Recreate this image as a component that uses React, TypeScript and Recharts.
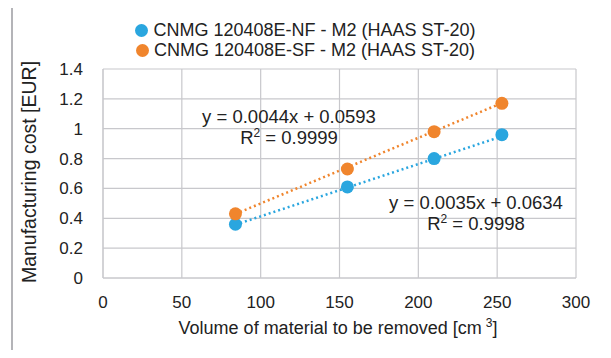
import React from "react"
import { ScatterChart, Scatter, XAxis, YAxis, CartesianGrid } from "recharts"

const seriesNames = ["CNMG 120408E-NF - M2 (HAAS ST-20)", "CNMG 120408E-SF - M2 (HAAS ST-20)"]
const COLORS = ["#2aa6df", "#f0852d"]

const volumes = [84, 155, 210, 253]
const costNF = [0.36, 0.61, 0.8, 0.96]
const costSF = [0.43, 0.73, 0.98, 1.17]

// trendline end points
const trendX = [84, 253]
const trendNF = [0.357, 0.949]
const trendSF = [0.429, 1.172]

const xTicks = [0, 50, 100, 150, 200, 250, 300]
const yTicks = [0, 0.2, 0.4, 0.6, 0.8, 1, 1.2, 1.4]

const FONT = "'Liberation Sans', Arial, sans-serif"

const toPoints = (xs: number[], ys: number[]) => xs.map((x, i) => ({ x, y: ys[i] }))

const noShape = () => <g />

const Dot = (props: any) => <circle cx={props.cx} cy={props.cy} r={6.5} fill={props.fill} />

const eqStyle: React.CSSProperties = {
  position: "absolute",
  width: 240,
  textAlign: "center",
  fontSize: 18.5,
  color: "#222",
  lineHeight: "21px",
}

const Sup = ({ children }: { children: React.ReactNode }) => (
  <sup style={{ fontSize: 12, verticalAlign: "7px", lineHeight: 0 }}>{children}</sup>
)

export default function App() {
  return (
    <div style={{ position: "relative", width: 611, height: 358, margin: -8, background: "#fff", fontFamily: FONT, overflow: "hidden" }}>
      <div style={{ position: "absolute", left: 11, top: 3, width: 596, height: 400, border: "2px solid #b4b4b8" }} />

      <div style={{ position: "absolute", left: 0, top: 20, width: 611, display: "flex", flexDirection: "column", alignItems: "center", fontSize: 18, color: "#222", lineHeight: "20px" }}>
        {seriesNames.map((name, i) => (
          <div key={name} style={{ display: "flex", alignItems: "center", height: 20 }}>
            <span style={{ width: 13, height: 13, borderRadius: "50%", background: COLORS[i], marginRight: 5, display: "inline-block" }} />
            {name}
          </div>
        ))}
      </div>

      <ScatterChart width={611} height={358} margin={{ top: 69, right: 35, bottom: 30, left: 43 }} style={{ position: "absolute", left: 0, top: 0 }}>
        <CartesianGrid stroke="#c8c8cc" strokeWidth={1.2} />
        <XAxis
          type="number"
          dataKey="x"
          domain={[0, 300]}
          ticks={xTicks}
          height={50}
          axisLine={{ stroke: "#c8c8cc" }}
          tickLine={false}
          tickMargin={12}
          tick={{ fill: "#222", fontSize: 17, fontFamily: FONT }}
          label={{
            content: () => (
              <text x={338} y={334} textAnchor="middle" fill="#222" fontSize={18} fontFamily={FONT}>
                Volume of material to be removed [cm<tspan dx={4} dy={-7} fontSize={12}>3</tspan><tspan dy={7}>]</tspan>
              </text>
            ),
          }}
        />
        <YAxis
          type="number"
          dataKey="y"
          domain={[0, 1.4]}
          ticks={yTicks}
          width={60}
          axisLine={{ stroke: "#c8c8cc" }}
          tickLine={false}
          tickMargin={14}
          tick={{ fill: "#222", fontSize: 17, fontFamily: FONT }}
          label={{
            content: () => (
              <text x={31} y={172} transform="rotate(-90 31 172)" textAnchor="middle" dominantBaseline="middle" fill="#222" fontSize={19.5} fontFamily={FONT}>
                Manufacturing cost [EUR]
              </text>
            ),
          }}
        />
        <Scatter data={toPoints(trendX, trendNF)} line={{ stroke: COLORS[0], strokeWidth: 2.5, strokeDasharray: "2 3" }} shape={noShape} isAnimationActive={false} />
        <Scatter data={toPoints(trendX, trendSF)} line={{ stroke: COLORS[1], strokeWidth: 2.5, strokeDasharray: "2 3" }} shape={noShape} isAnimationActive={false} />
        <Scatter name={seriesNames[0]} data={toPoints(volumes, costNF)} fill={COLORS[0]} shape={Dot} isAnimationActive={false} />
        <Scatter name={seriesNames[1]} data={toPoints(volumes, costSF)} fill={COLORS[1]} shape={Dot} isAnimationActive={false} />
      </ScatterChart>

      <div style={{ ...eqStyle, left: 169, top: 106 }}>
        <div>y = 0.0044x + 0.0593</div>
        <div>R<Sup>2</Sup> = 0.9999</div>
      </div>
      <div style={{ ...eqStyle, left: 356, top: 192 }}>
        <div>y = 0.0035x + 0.0634</div>
        <div>R<Sup>2</Sup> = 0.9998</div>
      </div>
    </div>
  )
}
